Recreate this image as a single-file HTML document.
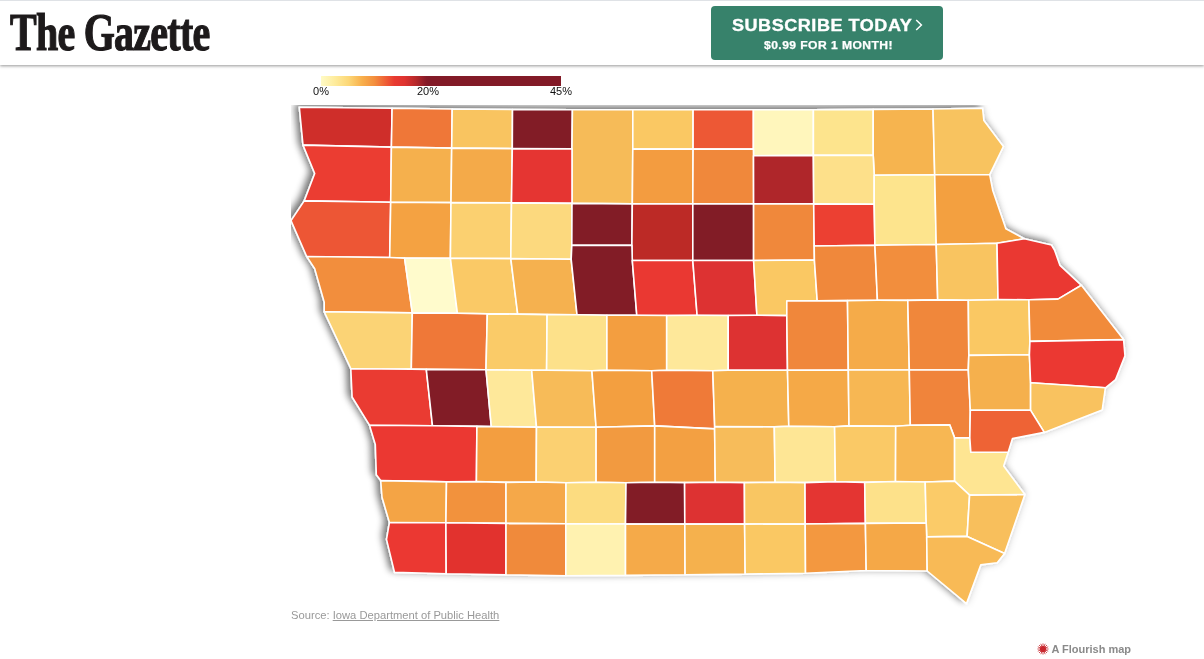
<!DOCTYPE html>
<html lang="en">
<head>
<meta charset="utf-8">
<title>The Gazette - Iowa county map</title>
<style>
html,body{margin:0;padding:0;background:#fff;}
body{width:1204px;height:659px;position:relative;overflow:hidden;font-family:"Liberation Sans",sans-serif;}
#hdr{position:absolute;left:0;top:0;width:1204px;height:65px;background:#fff;border-top:1px solid #dfe2e6;box-sizing:border-box;box-shadow:0 1px 3px rgba(0,0,0,.42);z-index:5;}
#logo{position:absolute;left:10px;top:3px;margin:0;font-family:"Liberation Serif",serif;font-weight:bold;font-size:53px;line-height:56px;transform:scaleX(.755);color:#1d1a1b;white-space:nowrap;transform-origin:0 0;letter-spacing:-1px;-webkit-text-stroke:1.2px #1d1a1b;}
#sub{position:absolute;left:711px;top:5px;width:232px;height:54px;background:#37826b;border-radius:4px;color:#fff;text-align:center;text-decoration:none;display:block;}
#sub .l1{position:absolute;left:20.5px;top:8.5px;font-weight:bold;font-size:17.2px;line-height:20px;white-space:nowrap;letter-spacing:.5px;transform-origin:0 50%;transform:scaleX(1.05);-webkit-text-stroke:.35px #fff;}
#sub .l2{position:absolute;left:52.5px;top:32px;font-weight:bold;font-size:11px;line-height:14px;white-space:nowrap;letter-spacing:.4px;transform-origin:0 50%;transform:scaleX(1.10);-webkit-text-stroke:.25px #fff;}
#sub svg{position:absolute;left:204px;top:13px;}
#legend{position:absolute;left:321px;top:76px;width:240px;height:10px;background:linear-gradient(to right,#fffbc6 0%,#feeb9b 6%,#fcd777 11.5%,#f8b04c 17%,#f38e3d 22.3%,#ee5b35 27.3%,#e83a30 30.6%,#df3330 34.8%,#b7292b 39.5%,#861b28 43.8%,#821a27 45%,#821a27 100%);}
.lg{position:absolute;top:84px;width:40px;margin-left:-20px;text-align:center;font-size:11px;line-height:14px;color:#111;}
#map{position:absolute;left:291.0px;top:105.0px;width:853.0px;height:514.0px;overflow:hidden;}
#map svg{display:block;overflow:hidden;}
#src{position:absolute;left:291px;top:607px;font-size:11.2px;line-height:16px;color:#999;white-space:nowrap;}
#src a{color:#999;text-decoration:underline;}
#credit{position:absolute;left:1037px;top:641.5px;font-size:11px;line-height:14px;font-weight:bold;color:#8a8a8a;white-space:nowrap;text-decoration:none;}
#credit svg{position:absolute;left:0;top:1.3px;}
#credit span{position:absolute;left:14.4px;top:0;}
</style>
</head>
<body>
<div id="hdr">
  <h1 id="logo">The Gazette</h1>
  <a id="sub"><span class="l1">SUBSCRIBE TODAY</span><svg width="8" height="12" viewBox="0 0 8 12"><path d="M1.2 1L6.4 6L1.2 11" fill="none" stroke="#fff" stroke-width="1.5"/></svg><span class="l2">$0.99 FOR 1 MONTH!</span></a>
</div>
<div id="legend"></div>
<div class="lg" style="left:321px">0%</div>
<div class="lg" style="left:428px">20%</div>
<div class="lg" style="left:561px">45%</div>
<div id="map">
<svg width="853.0" height="514.0" viewBox="0 0 853.0 514.0">
<defs>
<filter id="sh" x="-5%" y="-5%" width="110%" height="110%">
<feGaussianBlur in="SourceAlpha" stdDeviation="3.5" result="b"/>
<feOffset in="b" dx="-4" dy="-3.5" result="o"/>
<feComponentTransfer in="o" result="s"><feFuncA type="linear" slope="0.5"/></feComponentTransfer>
<feGaussianBlur in="SourceAlpha" stdDeviation="4" result="b2"/>
<feComponentTransfer in="b2" result="s2"><feFuncA type="linear" slope="0.14"/></feComponentTransfer>
<feMerge><feMergeNode in="s2"/><feMergeNode in="s"/><feMergeNode in="SourceGraphic"/></feMerge>
</filter>
</defs>
<g filter="url(#sh)" stroke="#fff" stroke-width="1.6" stroke-linejoin="round">
<polygon fill="#cf2d2c" points="8.3,2.2 101.1,3.3 100.4,42.1 12.0,40.1"/>
<polygon fill="#ef7739" points="101.1,3.3 161.2,4.0 160.7,43.1 100.4,42.1"/>
<polygon fill="#f9c460" points="161.2,4.0 221.5,4.5 221.3,43.6 160.7,43.1"/>
<polygon fill="#821a27" points="221.5,4.5 281.4,4.8 281.0,43.9 221.3,43.6"/>
<polygon fill="#f6bb58" points="281.4,4.8 341.8,4.8 341.8,44.1 341.3,98.9 281.0,98.4 281.0,43.9"/>
<polygon fill="#fac864" points="341.8,4.8 402.1,4.8 402.1,44.1 341.8,44.1"/>
<polygon fill="#ed5834" points="402.1,4.8 462.4,4.8 462.4,44.1 402.1,44.1"/>
<polygon fill="#fff6bc" points="462.4,4.8 522.4,4.8 522.4,50.4 462.5,50.8 462.4,44.1"/>
<polygon fill="#fde48d" points="522.4,4.8 582.2,4.4 582.2,50.4 522.4,50.4"/>
<polygon fill="#f6b450" points="582.2,4.4 642.0,4.0 643.7,69.7 583.2,70.2 582.2,50.4"/>
<polygon fill="#f8c35f" points="642.0,4.0 691.6,3.3 692.9,15.6 712.4,41.5 698.7,69.7 643.7,69.7"/>
<polygon fill="#eb3c32" points="12.0,40.1 100.4,42.1 99.7,97.2 13.2,95.9 23.7,68.5"/>
<polygon fill="#f5b04e" points="100.4,42.1 160.7,43.1 160.0,97.6 99.7,97.2"/>
<polygon fill="#f4aa48" points="160.7,43.1 221.3,43.6 220.5,97.9 160.0,97.6"/>
<polygon fill="#e53433" points="221.3,43.6 281.0,43.9 281.0,98.4 220.5,97.9"/>
<polygon fill="#f39c40" points="341.8,44.1 402.1,44.1 401.8,98.9 341.3,98.9"/>
<polygon fill="#f0883a" points="402.1,44.1 462.4,44.1 462.5,50.8 462.6,98.9 401.8,98.9"/>
<polygon fill="#af2529" points="462.5,50.8 522.4,50.4 522.7,98.9 462.6,98.9"/>
<polygon fill="#fde08a" points="522.4,50.4 582.2,50.4 583.2,70.2 583.2,99.3 522.7,98.9"/>
<polygon fill="#ed5636" points="13.2,95.9 99.7,97.2 98.7,152.5 15.7,151.5 0.0,115.6"/>
<polygon fill="#f4a242" points="99.7,97.2 160.0,97.6 159.4,153.3 113.6,153.1 98.7,152.5"/>
<polygon fill="#fbd070" points="160.0,97.6 220.5,97.9 219.8,153.6 159.4,153.3"/>
<polygon fill="#fcd97e" points="220.5,97.9 281.0,98.4 280.8,140.4 280.2,154.3 219.8,153.6"/>
<polygon fill="#821a27" points="281.0,98.4 341.3,98.9 340.9,140.4 280.8,140.4"/>
<polygon fill="#bc2927" points="341.3,98.9 401.8,98.9 401.8,155.5 341.3,155.5 340.9,140.4"/>
<polygon fill="#821a27" points="401.8,98.9 462.6,98.9 462.6,155.5 401.8,155.5"/>
<polygon fill="#f0883a" points="462.6,98.9 522.7,98.9 523.2,141.0 523.4,155.0 462.6,155.5"/>
<polygon fill="#ec4132" points="522.7,98.9 583.2,99.3 583.9,140.3 523.2,141.0"/>
<polygon fill="#fde48d" points="583.2,70.2 643.7,69.7 645.2,139.5 583.9,140.3 583.2,99.3"/>
<polygon fill="#f3a040" points="643.7,69.7 698.7,69.7 701.7,85.2 714.9,123.8 733.4,133.8 706.0,138.3 645.2,139.5"/>
<polygon fill="#f28e3c" points="15.7,151.5 98.7,152.5 113.6,153.1 121.3,207.9 33.2,206.8 33.2,197.3 23.7,163.7"/>
<polygon fill="#fffbcc" points="113.6,153.1 159.4,153.3 166.4,208.3 121.3,207.9"/>
<polygon fill="#fac966" points="159.4,153.3 219.8,153.6 226.7,209.1 196.3,208.9 166.4,208.3"/>
<polygon fill="#f5b14f" points="219.8,153.6 280.2,154.3 286.0,209.7 256.1,209.6 226.7,209.1"/>
<polygon fill="#821a27" points="280.8,140.4 340.9,140.4 341.3,155.5 345.8,210.3 315.9,210.3 286.0,209.7 280.2,154.3"/>
<polygon fill="#ea3732" points="341.3,155.5 401.8,155.5 406.1,210.3 375.7,210.5 345.8,210.3"/>
<polygon fill="#dd3330" points="401.8,155.5 462.6,155.5 465.9,210.3 437.2,210.5 406.1,210.3"/>
<polygon fill="#fac864" points="462.6,155.5 523.4,155.0 526.2,195.9 495.8,196.0 495.8,210.6 465.9,210.3"/>
<polygon fill="#f0883a" points="523.2,141.0 583.9,140.3 586.4,195.3 556.5,195.6 526.2,195.9 523.4,155.0"/>
<polygon fill="#f28e3c" points="583.9,140.3 645.2,139.5 646.7,194.9 616.8,195.4 586.4,195.3"/>
<polygon fill="#f9c460" points="645.2,139.5 706.0,138.3 707.0,194.6 677.3,195.2 646.7,194.9"/>
<polygon fill="#ea3732" points="706.0,138.3 733.4,133.8 760.5,140.0 763.5,145.0 769.0,160.4 790.4,180.3 767.0,194.1 737.9,194.8 707.0,194.6"/>
<polygon fill="#fbd374" points="33.2,206.8 121.3,207.9 120.3,264.1 59.8,263.7"/>
<polygon fill="#ef7838" points="121.3,207.9 166.4,208.3 196.3,208.9 195.0,264.8 135.3,264.4 120.3,264.1"/>
<polygon fill="#facb68" points="196.3,208.9 226.7,209.1 256.1,209.6 255.6,265.2 240.7,265.3 195.0,264.8"/>
<polygon fill="#fde18a" points="256.1,209.6 286.0,209.7 315.9,210.3 315.9,265.3 300.9,265.7 255.6,265.2"/>
<polygon fill="#f39e41" points="315.9,210.3 345.8,210.3 375.7,210.5 375.7,265.3 360.7,265.7 315.9,265.3"/>
<polygon fill="#fee89a" points="375.7,210.5 406.1,210.3 437.2,210.5 437.2,265.3 421.8,265.7 375.7,265.3"/>
<polygon fill="#dd3330" points="437.2,210.5 465.9,210.3 495.8,210.6 496.5,265.2 437.2,265.3"/>
<polygon fill="#f0873a" points="495.8,196.0 526.2,195.9 556.5,195.6 557.3,265.0 496.5,265.2 495.8,210.6"/>
<polygon fill="#f5ab49" points="556.5,195.6 586.4,195.3 616.8,195.4 618.3,265.0 557.3,265.0"/>
<polygon fill="#f0873a" points="616.8,195.4 646.7,194.9 677.3,195.2 677.8,250.4 677.3,265.0 618.3,265.0"/>
<polygon fill="#fac864" points="677.3,195.2 707.0,194.6 737.9,194.8 738.9,236.4 738.4,249.7 677.8,250.4"/>
<polygon fill="#f18b3b" points="737.9,194.8 767.0,194.1 790.4,180.3 832.6,234.6 738.9,236.4"/>
<polygon fill="#ea3a32" points="59.8,263.7 120.3,264.1 135.3,264.4 141.5,320.8 78.5,320.2 61.1,292.0"/>
<polygon fill="#821a27" points="135.3,264.4 195.0,264.8 200.3,321.6 185.9,321.4 141.5,320.8"/>
<polygon fill="#fee89a" points="195.0,264.8 240.7,265.3 245.5,322.1 200.3,321.6"/>
<polygon fill="#f7bb58" points="240.7,265.3 255.6,265.2 300.9,265.7 305.1,322.2 245.5,322.1"/>
<polygon fill="#f39f41" points="300.9,265.7 315.9,265.3 360.7,265.7 363.7,320.9 305.1,322.2"/>
<polygon fill="#ef7a38" points="360.7,265.7 375.7,265.3 421.8,265.7 423.7,321.6 423.6,323.9 363.7,320.9"/>
<polygon fill="#f5b14e" points="421.8,265.7 437.2,265.3 496.5,265.2 497.8,321.3 483.3,321.9 423.7,321.6"/>
<polygon fill="#f5a946" points="496.5,265.2 557.3,265.0 558.0,320.9 543.6,321.8 497.8,321.3"/>
<polygon fill="#f7b753" points="557.3,265.0 618.3,265.0 619.3,320.3 604.7,321.3 558.0,320.9"/>
<polygon fill="#f0843a" points="618.3,265.0 677.3,265.0 679.3,305.3 678.8,332.9 663.6,332.9 658.7,319.9 619.3,320.3"/>
<polygon fill="#f5b04e" points="677.8,250.4 738.4,249.7 739.6,277.8 739.6,305.3 679.3,305.3 677.3,265.0"/>
<polygon fill="#eb3932" points="738.9,236.4 832.6,234.6 834.0,250.9 824.6,274.6 814.4,282.8 739.6,277.8 738.4,249.7"/>
<polygon fill="#f9c25e" points="739.6,277.8 814.4,282.8 811.2,305.0 753.3,327.4 739.6,305.3"/>
<polygon fill="#eb3832" points="78.5,320.2 141.5,320.8 185.9,321.4 185.4,376.6 155.5,376.9 89.7,375.6 85.3,369.8 84.3,339.4"/>
<polygon fill="#f39e41" points="185.9,321.4 200.3,321.6 245.5,322.1 245.2,377.0 215.0,377.4 185.4,376.6"/>
<polygon fill="#fbd071" points="245.5,322.1 305.1,322.2 305.1,377.2 275.0,377.8 245.2,377.0"/>
<polygon fill="#f29a40" points="305.1,322.2 363.7,320.9 363.7,377.2 335.0,377.7 305.1,377.2"/>
<polygon fill="#f3a042" points="363.7,320.9 423.6,323.9 424.3,377.2 393.6,377.6 363.7,377.2"/>
<polygon fill="#f7bc5a" points="423.7,321.6 483.3,321.9 484.1,377.2 453.4,377.6 424.3,377.2 423.6,323.9"/>
<polygon fill="#fee695" points="483.3,321.9 497.8,321.3 543.6,321.8 544.4,376.8 514.0,377.6 484.1,377.2"/>
<polygon fill="#fac966" points="543.6,321.8 558.0,320.9 604.7,321.3 604.5,376.5 573.7,377.4 544.4,376.8"/>
<polygon fill="#f7b753" points="604.7,321.3 619.3,320.3 658.7,319.9 663.6,332.9 663.6,376.1 634.2,377.0 604.5,376.5"/>
<polygon fill="#fee592" points="663.6,332.9 678.8,332.9 679.8,347.3 717.2,347.3 712.7,361.0 733.9,389.6 678.6,390.1 663.6,376.1"/>
<polygon fill="#ee6435" points="679.3,305.3 739.6,305.3 753.3,327.4 721.5,333.6 717.2,347.3 679.8,347.3 678.8,332.9"/>
<polygon fill="#f4a444" points="89.7,375.6 155.5,376.9 154.9,417.8 98.4,417.5 91.0,392.2"/>
<polygon fill="#f2923d" points="155.5,376.9 185.4,376.6 215.0,377.4 215.0,418.4 154.9,417.8"/>
<polygon fill="#f5a848" points="215.0,377.4 245.2,377.0 275.0,377.8 274.8,418.8 215.0,418.4"/>
<polygon fill="#fcdc80" points="275.0,377.8 305.1,377.2 335.0,377.7 334.5,419.0 274.8,418.8"/>
<polygon fill="#821a27" points="335.0,377.7 363.7,377.2 393.6,377.6 393.8,419.1 334.5,419.0"/>
<polygon fill="#dd3330" points="393.6,377.6 424.3,377.2 453.4,377.6 453.6,419.1 393.8,419.1"/>
<polygon fill="#f9c662" points="453.4,377.6 484.1,377.2 514.0,377.6 514.2,419.0 453.6,419.1"/>
<polygon fill="#e43433" points="514.0,377.6 544.4,376.8 573.7,377.4 574.4,418.4 514.2,419.0"/>
<polygon fill="#fde18a" points="573.7,377.4 604.5,376.5 634.2,377.0 635.2,418.0 574.4,418.4"/>
<polygon fill="#fbcb68" points="634.2,377.0 663.6,376.1 678.6,390.1 676.1,431.4 635.7,431.9 635.2,418.0"/>
<polygon fill="#f8bf5c" points="678.6,390.1 733.9,389.6 713.6,448.6 676.1,431.4"/>
<polygon fill="#eb3832" points="98.4,417.5 154.9,417.8 155.2,468.7 103.5,467.4 95.5,434.4"/>
<polygon fill="#e2332f" points="154.9,417.8 215.0,418.4 215.0,469.9 155.2,468.7"/>
<polygon fill="#f08a3b" points="215.0,418.4 274.8,418.8 274.8,470.8 215.0,469.9"/>
<polygon fill="#fff2b0" points="274.8,418.8 334.5,419.0 334.5,470.4 274.8,470.8"/>
<polygon fill="#f5aa48" points="334.5,419.0 393.8,419.1 394.1,469.8 334.5,470.4"/>
<polygon fill="#f5b14e" points="393.8,419.1 453.6,419.1 454.2,469.1 394.1,469.8"/>
<polygon fill="#fac864" points="453.6,419.1 514.2,419.0 514.5,468.3 454.2,469.1"/>
<polygon fill="#f3983f" points="514.2,419.0 574.4,418.4 575.2,465.5 514.5,468.3"/>
<polygon fill="#f5a846" points="574.4,418.4 635.2,418.0 635.7,431.9 636.2,466.0 575.2,465.5"/>
<polygon fill="#f8ba56" points="635.7,431.9 676.1,431.4 713.6,448.6 706.2,457.8 689.8,459.9 675.5,498.6 636.2,466.0"/>
</g>
</svg>
</div>
<div id="src">Source: <a>Iowa Department of Public Health</a></div>
<a id="credit"><svg width="12" height="12" viewBox="-6 -6 12 12"><g fill="#c8272d"><circle r="3.1"/><g stroke="#c8272d" stroke-width=".8"><path d="M0-5.6V5.6M-5.6 0H5.6M-4-4L4 4M-4 4L4-4M-2.2-5.2L2.2 5.2M2.2-5.2L-2.2 5.2M-5.2-2.2L5.2 2.2M-5.2 2.2L5.2-2.2"/></g></g></svg><span>A Flourish map</span></a>
</body>
</html>
